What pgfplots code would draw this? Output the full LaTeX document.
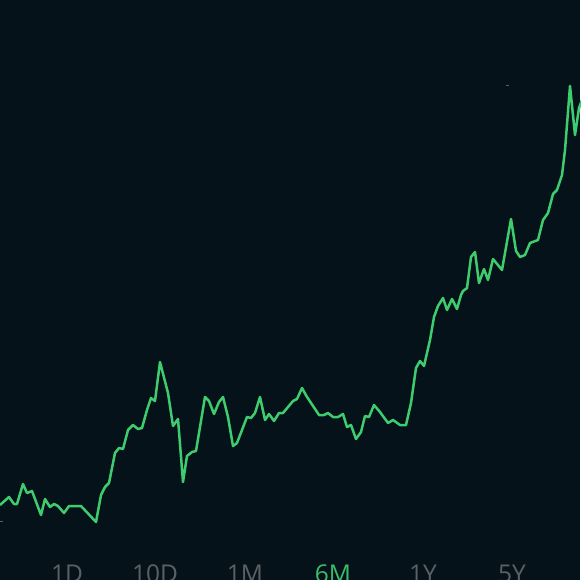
\documentclass[border=0pt]{standalone}
\usepackage{pgfplots}
\pgfplotsset{compat=1.18}
\usepackage{fontspec}
\setmainfont{Open Sans}
\definecolor{bg}{RGB}{6,18,26}
\definecolor{ln}{RGB}{62,204,110}
\definecolor{lbl}{RGB}{92,96,100}
\definecolor{sel}{RGB}{58,190,105}
\tikzset{lab/.style={anchor=base, inner sep=0pt, font=\fontsize{24.5}{24}\selectfont}}
\begin{document}
\begin{tikzpicture}
\fill[bg] (0,0) rectangle (580pt,580pt);
\begin{axis}[
  at={(0,0)}, anchor=south west,
  scale only axis, width=580pt, height=580pt,
  xmin=0, xmax=580, ymin=0, ymax=580, y dir=reverse,
  hide axis, clip=false,
]
\addplot[ln, line width=2.5pt, line join=round] coordinates {
(0,505) (9,497) (14,504) (17,504) (23,484) (27,493) (32,491) (41,515) (45,499)
(50,507) (54,504) (58,506) (64,513) (69,506) (81,506) (96,522) (101,495)
(105,487) (109,483) (115,453) (119,448) (123,449) (128,430) (133,425) (138,429)
(142,428) (147,410) (151,398) (155,401) (160,362) (168,393) (173,426) (178,419)
(183,482) (187,456) (192,452) (196,451) (205,397) (209,401) (214,414) (219,402)
(223,397) (228,417) (233,446) (237,443) (242,430) (247,417) (251,418) (255,413)
(260,397) (265,420) (269,414) (274,421) (279,413) (283,413) (288,407) (293,401)
(297,399) (302,388) (307,397) (319,415) (324,415) (328,413) (333,417) (338,417)
(343,414) (347,427) (351,425) (356,439) (361,432) (365,416) (369,417) (374,405)
(380,412) (388,423) (393,420) (400,425) (406,425) (411,403) (416,368) (420,361)
(424,366) (430,340) (434,317) (438,306) (443,298) (447,310) (452,299) (457,309)
(461,295) (463,291) (467,288) (471,257) (475,252) (479,283) (484,269) (488,280)
(493,259) (502,270) (511,219) (516,251) (520,257) (525,255) (530,243) (538,240)
(543,220) (548,213) (553,194) (557,190) (562,175) (565,150) (570,86) (575,135)
(579,108) (582,100)
};
\draw[lbl, line width=0.6pt] (axis cs:506,85) -- (axis cs:509,85);
\draw[lbl, line width=0.6pt] (axis cs:0,521) -- (axis cs:3,521);
\node[lbl, lab] at (axis cs:67,582) {1D};
\node[lbl, lab] at (axis cs:155,582) {10D};
\node[lbl, lab] at (axis cs:245,582) {1M};
\node[sel, lab] at (axis cs:333,582) {6M};
\node[lbl, lab] at (axis cs:423,582) {1Y};
\node[lbl, lab] at (axis cs:512,582) {5Y};
\end{axis}
\pgfresetboundingbox
\useasboundingbox (0,0) rectangle (580pt,580pt);
\end{tikzpicture}
\end{document}
